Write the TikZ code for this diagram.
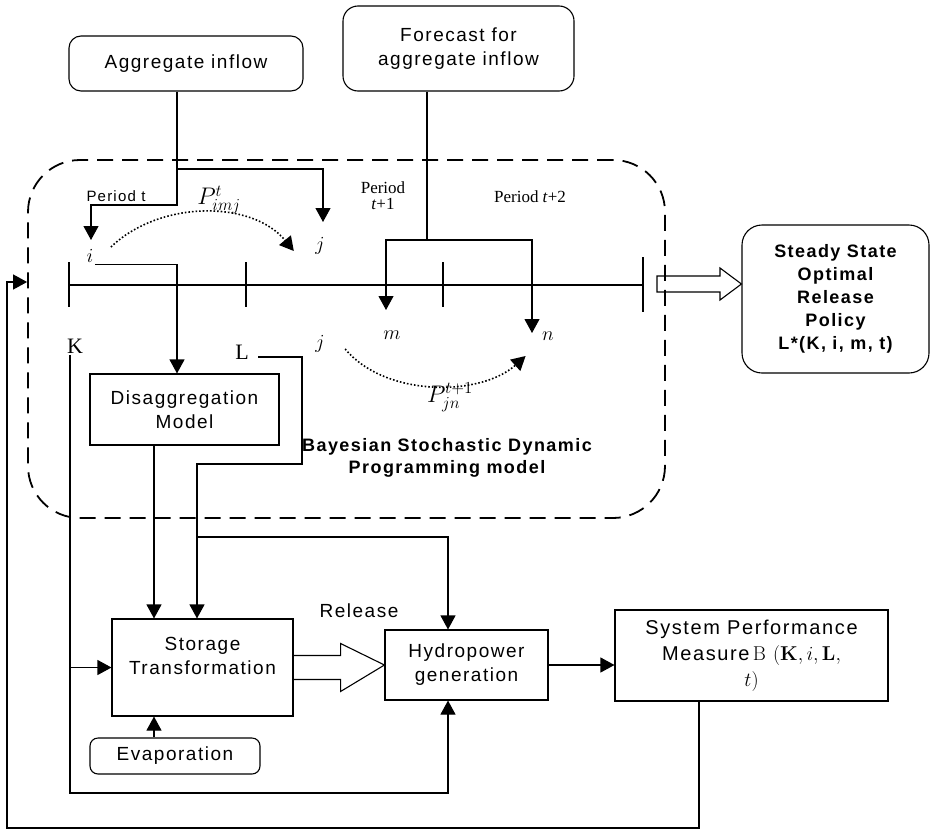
\RequirePackage{fix-cm}
\documentclass[tikz,border=0pt]{standalone}
\usepackage[no-math]{fontspec}
\setmainfont{Liberation Sans}[LetterSpace=8]
\newfontfamily\serifont{Liberation Serif}
\usetikzlibrary{arrows.meta,calc}

\begin{document}
\begin{tikzpicture}[x=1pt,y=-1pt,>={Triangle[width=15pt,length=14pt]},line width=1.1pt,
  box/.style={draw,rectangle,align=center,inner sep=2pt,font=\fontsize{19}{24}\selectfont},
  rbox/.style={box,rounded corners=12pt},
  lbl/.style={inner sep=1pt},
  mlbl/.style={lbl,font=\fontsize{20}{24}\selectfont},
  serlbl/.style={lbl,font=\serifont\fontsize{17}{16}\selectfont,align=center},
  dotarc/.style={dotted,line width=1.6pt,->}]
\useasboundingbox (0,0) rectangle (931,830);

% input boxes
\node[rbox,minimum width=234,minimum height=55] (agg) at (186,63.5) {Aggregate inflow};
\node[rbox,minimum width=231,minimum height=85,rounded corners=15pt] (fcst) at (458.5,48.5) {Forecast for\\aggregate inflow};

% BSDP region
\node[draw,dash pattern=on 16pt off 9pt,line width=1.8pt,rounded corners=52pt,
  minimum width=637,minimum height=358] (bsdp) at (346.5,339) {};
\node[lbl,font=\bfseries\fontsize{18}{22}\selectfont,align=center] (bsdptxt) at (447,458) {Bayesian Stochastic Dynamic\\Programming model};

% time axis
\draw (69,285) -- (643,285);
\foreach \x in {69,246,443} \draw (\x,262) -- (\x,307);
\draw (643,257) -- (643,312);
\node[lbl,font=\fontsize{15}{18}\selectfont] (pert) at (116,196) {Period t};
\node[serlbl] (pert1) at (383,196) {Period\\\textit{t}+1};
\node[serlbl] (pert2) at (530,197) {Period \textit{t}+2};

% states
\node[mlbl] (i1) at (90,256) {$i$};
\node[mlbl] (j1) at (320,246) {$j$};
\node[mlbl] (j2) at (320,344) {$j$};
\node[mlbl] (m) at (392,335) {$m$};
\node[mlbl] (n) at (548,336) {$n$};
\node[lbl,font=\fontsize{24}{28}\selectfont] (p1) at (219,200) {$P^{t}_{imj}$};
\node[lbl,font=\fontsize{24}{28}\selectfont] (p2) at (450,397) {$P^{t+1}_{jn}$};
\node[lbl,font=\serifont\fontsize{22}{24}\selectfont] (K) at (75,346) {K};
\node[lbl,font=\serifont\fontsize{22}{24}\selectfont] (L) at (242,352) {L};

\draw[dotarc] ($(i1.east)+(16,-9)$) .. controls (160,200) and (252,200) .. ($(j1.west)+(-20,5)$);
\draw[dotarc] ($(j2.east)+(19,5)$) .. controls (385,397) and (480,397) .. ($(n.west)+(-15,20)$);

% process boxes
\node[box,minimum width=189,minimum height=71] (disagg) at (184.5,409.5) {Disaggregation\\Model};
\node[box,minimum width=181,minimum height=97] (storage) at (202.5,667.5) {Storage\\Transformation\\\mbox{}};
\node[box,minimum width=163,minimum height=70] (hydro) at (466.5,665) {Hydropower\\generation};
\node[box,minimum width=273,minimum height=91,font=\fontsize{20}{26}\selectfont] (sysperf) at (751.5,655.5)
  {System Performance\\Measure\,$\mathrm{B}$ $(\mathbf{K}, i, \mathbf{L},$\\$t)$};
\node[rbox,minimum width=170,minimum height=36,rounded corners=8pt] (evap) at (175,756) {Evaporation};
\node[lbl,font=\fontsize{19}{24}\selectfont] (rel) at (359,611) {Release};
\node[rbox,minimum width=187,minimum height=148,rounded corners=20pt,font=\bfseries\fontsize{18}{23}\selectfont]
  (steady) at (835.5,299) {Steady State\\Optimal\\Release\\Policy\\L*(K, i, m, t)};

% wiring points
\coordinate (aturn) at (177,205);
\coordinate (asplit) at (177,169);
\coordinate (itip) at (91,240);
\coordinate (jtip) at (323,222);
\coordinate (fsplit) at (427,240);
\coordinate (mtip) at (386,310);
\coordinate (ntip) at (532,333);
\coordinate (dcol) at (154,0);
\coordinate (lturn) at (302,464);
\coordinate (lsplit) at (197,537);
\coordinate (hcol) at (448,0);
\coordinate (kbot) at (70,793);
\coordinate (fbcol) at (699,0);
\coordinate (fb) at (7,828);

% inflow
\draw[->] (agg.south -| aturn) -- (aturn) -| (itip);
\draw[->] (asplit) -| (jtip);
\draw[->] (i1.south east) -| (aturn |- disagg.north);
\draw (fcst.south -| fsplit) -- (fsplit);
\draw[->] (fsplit) -| (mtip);
\draw[->] (fsplit) -| (ntip);

% release chain
\draw[->] (disagg.south -| dcol) -- (storage.north -| dcol);
\draw[->] (evap.north -| dcol) -- (storage.south -| dcol);
\draw[->] ($(L.east)+(8,5)$) -| (lturn) -| (storage.north -| lsplit);
\draw[->] (lsplit) -| (hydro.north -| hcol);
\draw[->] (K.south -| kbot) -- (kbot) -| (hydro.south -| hcol);
\draw[->] (storage.west -| kbot) -- (storage.west);
\draw ($(storage.east)+(0,-12)$) -- ++(47,0) -- ++(0,-12) -- (hydro.west)
  -- ($(storage.east)+(47,24)$) -- ++(0,-12) -- ($(storage.east)+(0,12)$);
\draw[->] (hydro.east) -- (hydro.east -| sysperf.west);

% policy and feedback
\draw (657,276) -- (720,276) -- (720,268) -- (steady.west |- 0,284) -- (720,300) -- (720,292) -- (657,292) -- cycle;
\draw[->] (sysperf.south -| fbcol) |- (fb) |- (bsdp.west |- 0,282);
\end{tikzpicture}
\end{document}
